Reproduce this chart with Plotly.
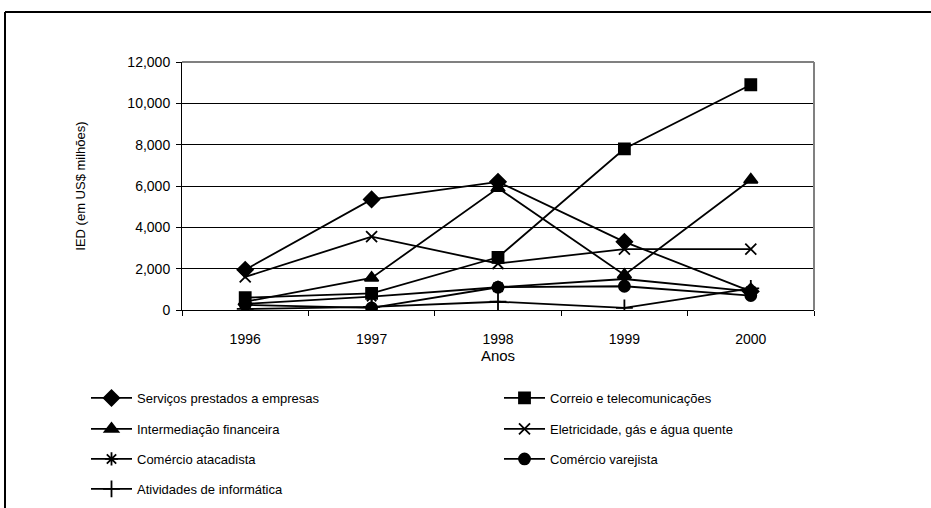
import plotly.graph_objects as go

anos = [1996, 1997, 1998, 1999, 2000]
ano_labels = ["1996", "1997", "1998", "1999", "2000"]

servicos = [1950, 5350, 6200, 3300, 900]
correio = [600, 800, 2550, 7800, 10900]
intermediacao = [400, 1550, 5900, 1700, 6300]
eletricidade = [1600, 3550, 2250, 2950, 2950]
atacadista = [300, 650, 1100, 1500, 900]
varejista = [250, 100, 1100, 1150, 700]
informatica = [50, 150, 400, 100, 1050]

series = [
    ("Serviços prestados a empresas", servicos, "diamond", 12),
    ("Correio e telecomunicações", correio, "square", 11),
    ("Intermediação financeira", intermediacao, "triangle-up", 12),
    ("Eletricidade, gás e água quente", eletricidade, "x-thin-open", 11),
    ("Comércio atacadista", atacadista, "asterisk-open", 11),
    ("Comércio varejista", varejista, "circle", 11),
    ("Atividades de informática", informatica, "cross-thin-open", 12),
]

FONT = "Liberation Sans, Arial, sans-serif"

W, H = 931, 508
L, R, T, B = 182, 814, 62, 310


def px(x):
    return (x - L) / (R - L)


def py(y):
    return (B - y) / (B - T)


# legend slot positions (page pixels): column x, row y
slots = [(86, 398), (499, 398), (86, 429), (499, 429), (86, 459), (499, 459), (86, 489)]

fig = go.Figure()
legs = {}
for i, (name, vals, sym, size) in enumerate(series):
    key = "legend" if i == 0 else f"legend{i + 1}"
    fig.add_trace(go.Scatter(
        x=anos, y=vals, name=name, mode="lines+markers",
        line=dict(color="black", width=1.8),
        marker=dict(symbol=sym, size=size, color="black",
                    line=dict(color="black", width=1.8)),
        legend=key,
    ))
    sx, sy = slots[i]
    legs[key] = dict(x=px(sx), y=py(sy), xanchor="left", yanchor="middle",
                     itemwidth=41,
                     font=dict(family=FONT, size=13, color="black"),
                     bgcolor="rgba(0,0,0,0)")

fig.update_layout(
    width=W, height=H,
    margin=dict(l=L, r=W - R, t=T, b=H - B, pad=0, autoexpand=False),
    paper_bgcolor="white", plot_bgcolor="white",
    font=dict(family=FONT, size=14, color="black"),
    showlegend=True,
    xaxis=dict(
        range=[1995.5, 2000.5], tickmode="array", tickvals=anos, ticktext=ano_labels,
        ticks="", showgrid=False, zeroline=False,
        showline=True, linecolor="black", linewidth=1,
        tickfont=dict(family=FONT, size=14, color="black"),
        ticklabelstandoff=16,
        minor=dict(tickmode="array", tickvals=[1995.5, 1996.5, 1997.5, 1998.5, 1999.5, 2000.5],
                   ticks="outside", ticklen=5, tickcolor="black", tickwidth=1, showgrid=False),
        title=dict(text="Anos", font=dict(family=FONT, size=15, color="black"), standoff=4),
    ),
    yaxis=dict(
        range=[0, 12000], dtick=2000, tickformat=",d",
        ticks="outside", ticklen=5, tickcolor="black",
        showgrid=True, gridcolor="black", gridwidth=1, zeroline=False,
        showline=True, linecolor="black", linewidth=1,
        tickfont=dict(family=FONT, size=14, color="black"),
        ticklabelstandoff=3,
        title=dict(text="IED (em US$ milhões)", font=dict(family=FONT, size=13, color="black"), standoff=38),
    ),
    shapes=[
        dict(type="line", xref="paper", yref="paper", x0=0, x1=1, y0=1, y1=1,
             line=dict(color="#808080", width=2)),
        dict(type="line", xref="paper", yref="paper", x0=1, x1=1, y0=0, y1=1,
             line=dict(color="#808080", width=2)),
        dict(type="line", xref="paper", yref="paper", x0=px(5), x1=px(940), y0=py(12), y1=py(12),
             line=dict(color="black", width=2)),
        dict(type="line", xref="paper", yref="paper", x0=px(5), x1=px(5), y0=py(12), y1=py(520),
             line=dict(color="black", width=2)),
    ],
    **legs,
)

fig.write_html("out.html", config={"displayModeBar": False},
               post_script="document.body.style.margin='0px';")
